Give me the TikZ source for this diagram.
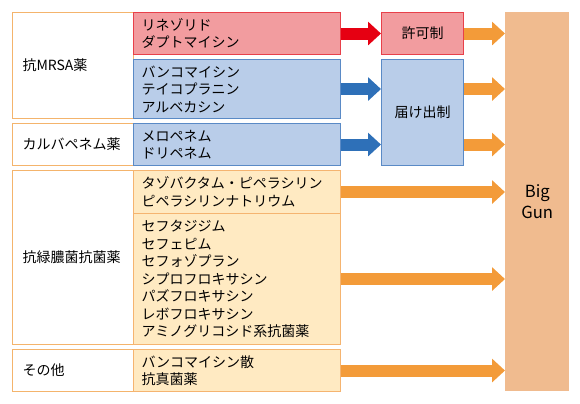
\documentclass[tikz,border=0pt]{standalone}
\usepackage{fontspec}
\setmainfont{Noto Sans CJK JP}
\usetikzlibrary{arrows.meta}

\definecolor{grpline}{HTML}{F4B46C}
\definecolor{redfill}{HTML}{F29C9F}
\definecolor{redline}{HTML}{E8404A}
\definecolor{redarr}{HTML}{E60012}
\definecolor{bluefill}{HTML}{B9CDE9}
\definecolor{blueline}{HTML}{5A8AC6}
\definecolor{bluearr}{HTML}{2E70B8}
\definecolor{orfill}{HTML}{FFEAC2}
\definecolor{orline}{HTML}{F5B470}
\definecolor{orarr}{HTML}{F39B39}
\definecolor{gunfill}{HTML}{F0BB8F}

\begin{document}
\begin{tikzpicture}[x=0.75pt, y=-0.75pt,
  every node/.style={font=\fontsize{10.5}{13.125}\selectfont, inner sep=0pt},
  groupbox/.style={draw=grpline, fill=white, line width=0.8pt, anchor=north west,
    text width=75.75pt, inner xsep=7.5pt, align=left},
  drugbox/.style={line width=0.8pt, anchor=north west,
    text width=143.25pt, inner xsep=6pt, align=left},
  redbox/.style={drugbox, draw=redline, fill=redfill},
  bluebox/.style={drugbox, draw=blueline, fill=bluefill},
  orbox/.style={drugbox, draw=orline, fill=orfill},
  midbox/.style={line width=0.8pt, anchor=north west, minimum width=61.5pt, align=center},
  fat/.style={line width=9pt, -{Triangle[length=9.75pt, width=17.25pt]}},
  redarrow/.style={fat, draw=redarr, fill=redarr},
  bluearrow/.style={fat, draw=bluearr, fill=bluearr},
  orarrow/.style={fat, draw=orarr, fill=orarr}
]
\useasboundingbox (0,0) rectangle (580,403);

% groups
\node[groupbox, minimum height=79.5pt] (mrsa) at (12,12) {抗MRSA薬};
\node[groupbox, minimum height=31.5pt] (carba) at (12,123) {カルバペネム薬};
\node[groupbox, minimum height=130.5pt] (pseudo) at (12,170) {抗緑膿菌抗菌薬};
\node[groupbox, minimum height=31.5pt] (other) at (12,349) {その他};

% drugs
\node[redbox, minimum height=31.5pt] (lzd) at (133,12) {リネゾリド\\ダプトマイシン};
\node[bluebox, minimum height=44.25pt] (vcm) at (133,59) {バンコマイシン\\テイコプラニン\\アルベカシン};
\node[bluebox, minimum height=31.5pt] (mepm) at (133,123) {メロペネム\\ドリペネム};
\node[orbox, minimum height=32.25pt] (tazpipc) at (133,170) {タゾバクタム・ピペラシリン\\ピペラシリンナトリウム};
\node[orbox, minimum height=98.25pt] (ceph) at (133,213) {セフタジジム\\セフェピム\\セフォゾプラン\\シプロフロキサシン\\パズフロキサシン\\レボフロキサシン\\アミノグリコシド系抗菌薬};
\node[orbox, minimum height=31.5pt] (vcmpo) at (133,349) {バンコマイシン散\\抗真菌薬};

% control
\node[midbox, draw=redline, fill=redfill, minimum height=31.5pt] (kyoka) at (381,12) {許可制};
\node[midbox, draw=blueline, fill=bluefill, minimum height=79.5pt] (todokede) at (381,59) {届け出制};

\node[anchor=north west, fill=gunfill, minimum width=48pt, minimum height=284.25pt,
  align=center, font=\fontsize{12.5}{15.75}\selectfont] (biggun) at (505,12) {Big\\Gun};

\draw[redarrow] (lzd.east) -- (kyoka.west);
\draw[bluearrow] (vcm.east) -- (todokede.west |- vcm.east);
\draw[bluearrow] (mepm.east) -- (todokede.west |- mepm.east);

\draw[orarrow] (kyoka.east) -- (biggun.west |- kyoka.east);
\draw[orarrow] (todokede.east |- vcm.east) -- (biggun.west |- vcm.east);
\draw[orarrow] (todokede.east |- mepm.east) -- (biggun.west |- mepm.east);
\draw[orarrow] (tazpipc.east) -- (biggun.west |- tazpipc.east);
\draw[orarrow] (ceph.east) -- (biggun.west |- ceph.east);
\draw[orarrow] (vcmpo.east) -- (biggun.west |- vcmpo.east);
\end{tikzpicture}
\end{document}
